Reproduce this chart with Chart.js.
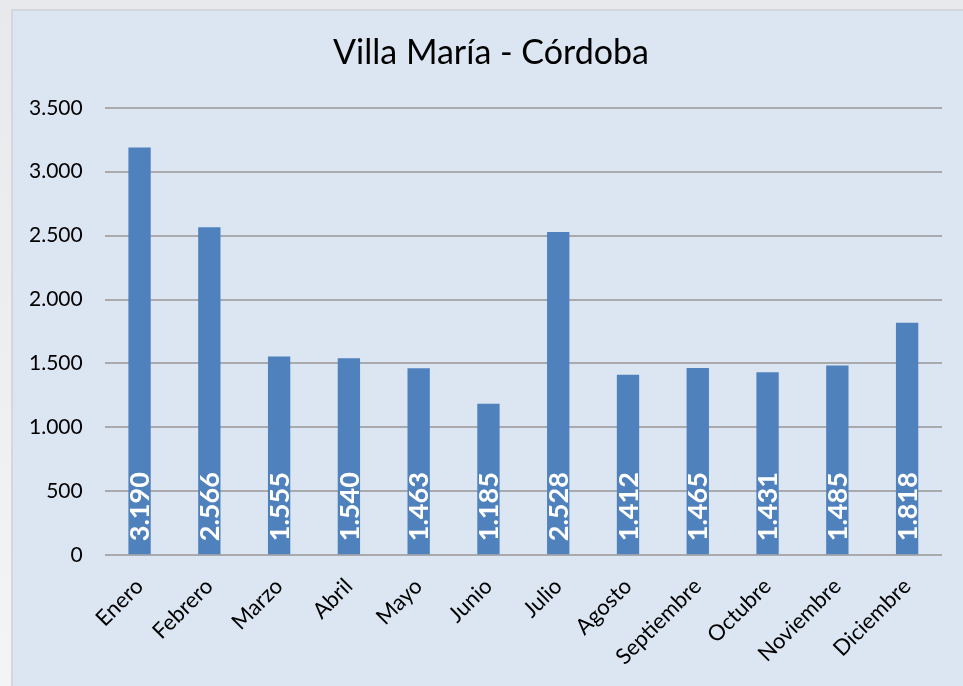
<!DOCTYPE html>
<html>
<head>
<meta charset="utf-8">
<script src="https://cdn.jsdelivr.net/npm/chart.js@4/dist/chart.umd.min.js"></script>
<style>
  html, body { margin:0; padding:0; }
  body { width:963px; height:686px; overflow:hidden; background:linear-gradient(#e8e9ec, #f3f4f6); position:relative; }
  #frame { position:absolute; left:11px; top:9px; width:960px; height:690px; background:#dce6f2; border:2px solid #d4d7db; box-sizing:border-box; }
  #wrap { position:absolute; left:7px; top:11px; width:968px; height:675px; }
</style>
</head>
<body>
<div id="frame"></div>
<div id="wrap"><canvas id="chart"></canvas></div>
<script>
// datos mensuales
const months = ['Enero','Febrero','Marzo','Abril','Mayo','Junio','Julio','Agosto','Septiembre','Octubre','Noviembre','Diciembre'];
const values = [3190, 2566, 1555, 1540, 1463, 1185, 2528, 1412, 1465, 1431, 1485, 1818];
const chartTitle = 'Villa María - Córdoba';

const FONT = 'Lato, "Open Sans", sans-serif';

function fmtNum(v){
  return String(v).replace(/\B(?=(\d{3})+(?!\d))/g, '.');
}

// etiquetas verticales dentro de cada barra
const barLabels = {
  id: 'barLabels',
  afterDatasetsDraw(chart){
    const ctx = chart.ctx;
    const meta = chart.getDatasetMeta(0);
    ctx.save();
    ctx.fillStyle = '#ffffff';
    ctx.font = 'bold 27px ' + FONT;
    ctx.textAlign = 'left';
    ctx.textBaseline = 'middle';
    meta.data.forEach((bar, i) => {
      ctx.save();
      ctx.translate(bar.x + 1, bar.base - 13);
      ctx.rotate(-Math.PI/2);
      ctx.fillText(fmtNum(values[i]), 0, 0);
      ctx.restore();
    });
    ctx.restore();
  }
};

new Chart(document.getElementById('chart'), {
  type: 'bar',
  data: {
    labels: months,
    datasets: [{
      data: values,
      backgroundColor: '#4f81bd',
      borderWidth: 0,
      barPercentage: 0.32,
      categoryPercentage: 1
    }]
  },
  options: {
    responsive: true,
    maintainAspectRatio: false,
    animation: false,
    layout: { padding: { left: 0, right: 0, top: 0, bottom: 6 } },
    plugins: {
      legend: { display: false },
      tooltip: { enabled: false },
      title: {
        display: true,
        text: chartTitle,
        color: '#000',
        font: { family: FONT, size: 34, weight: 'normal' },
        padding: { top: 22, bottom: 34 }
      }
    },
    scales: {
      x: {
        grid: { display: false },
        border: { display: false },
        ticks: {
          color: '#000',
          font: { family: FONT, size: 22 },
          minRotation: 45,
          maxRotation: 45,
          padding: 10
        }
      },
      y: {
        min: 0,
        max: 3500,
        border: { display: false },
        grid: { color: '#a8aaad', lineWidth: 2, drawTicks: false },
        ticks: {
          stepSize: 500,
          color: '#000',
          font: { family: FONT, size: 21 },
          padding: 22,
          callback: v => fmtNum(v)
        }
      },
      // eje vacío a la derecha, solo reserva margen
      yRight: {
        position: 'right',
        display: true,
        grid: { display: false },
        border: { display: false },
        ticks: { display: false },
        afterFit(scale){ scale.width = 33; }
      }
    }
  },
  plugins: [barLabels]
});
</script>
</body>
</html>
